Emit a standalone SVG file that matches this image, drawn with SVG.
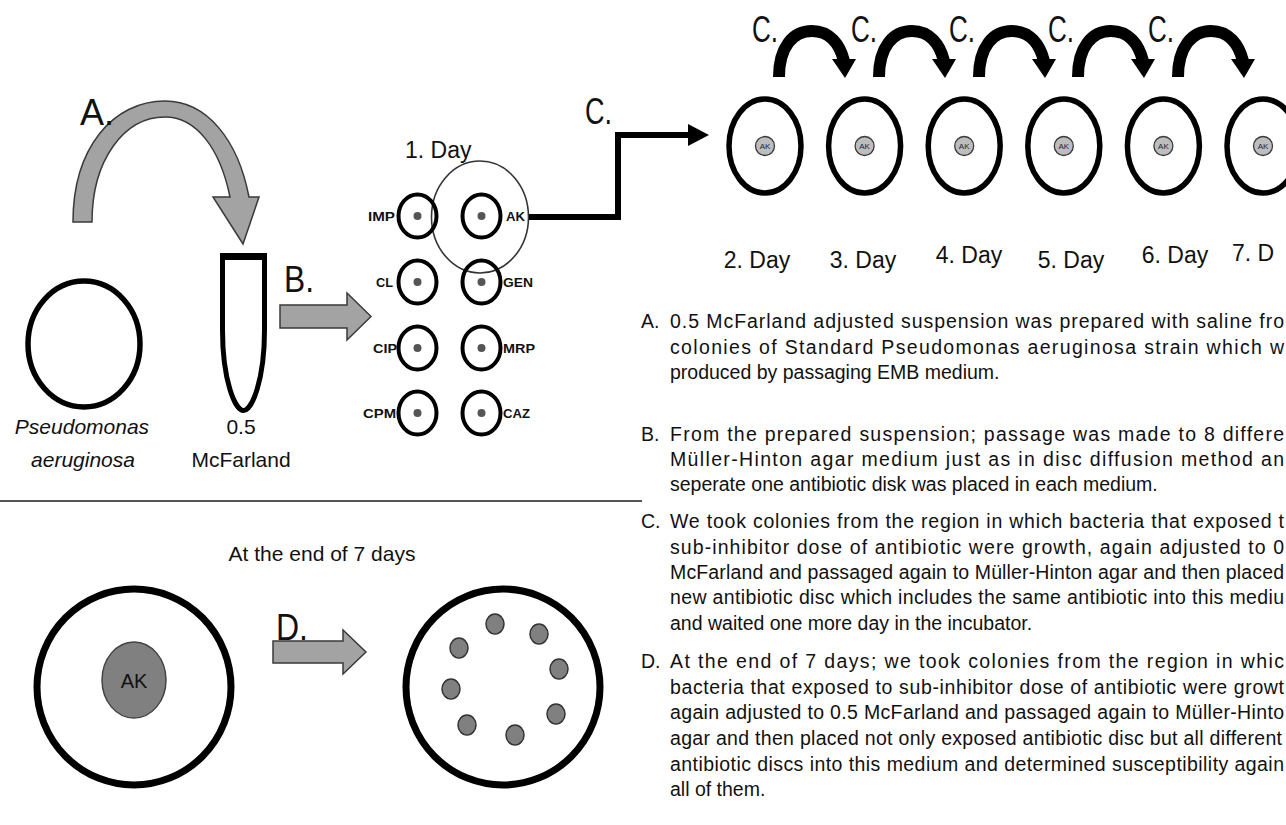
<svg xmlns="http://www.w3.org/2000/svg" xmlns:xlink="http://www.w3.org/1999/xlink" width="1286" height="825" viewBox="0 0 1286 825">
  <defs>
    <style>
      text { font-family: "Liberation Sans", Arial, sans-serif; fill: #111; }
      .lbl { font-size: 36px; }
      .day { font-size: 23px; }
      .name { font-size: 21px; }
      .ab { font-size: 13px; font-weight: bold; }
      .par { font-size: 19.5px; }
      .plate { fill: none; stroke: #000; stroke-width: 5.5; }
      .bigplate { fill: none; stroke: #000; stroke-width: 7; }
      .disc { fill: none; stroke: #000; stroke-width: 4; }
      .pin { fill: #555; }
      .gray { fill: #a3a3a3; stroke: #3a3a3a; stroke-width: 1.5; }
      .akdot { fill: #bdbdbd; stroke: #3a3a3a; stroke-width: 1.3; }
      .aktiny { font-size: 8px; fill: #223; }
      .colony { fill: #808080; stroke: #333; stroke-width: 1.5; }
      .wire { fill: none; stroke: #000; stroke-width: 6; }
    </style>
    <!-- one daily passage hop: thick arc with a downward head -->
    <g id="hop">
      <path d="M0,77 C0,47 14,31 33,31 C51,31 61,45 65,61" fill="none" stroke="#000" stroke-width="12"/>
      <polygon points="53,59 77,59 66,78" fill="#000"/>
    </g>
    <!-- plate carrying a single AK disc -->
    <g id="akplate">
      <ellipse cx="0" cy="0" rx="36" ry="47" class="plate"/>
      <circle cx="0" cy="0" r="9.5" class="akdot"/>
      <text x="0" y="3" text-anchor="middle" class="aktiny">AK</text>
    </g>
  </defs>

  <rect width="1286" height="825" fill="#fff"/>

  <!-- starting culture -->
  <g id="culture">
    <ellipse cx="84" cy="344" rx="56" ry="63" class="plate"/>
    <text x="82" y="434" text-anchor="middle" class="name" font-style="italic">Pseudomonas</text>
    <text x="83" y="467" text-anchor="middle" class="name" font-style="italic">aeruginosa</text>
  </g>

  <!-- McFarland tube -->
  <g id="tube">
    <path d="M222.5,256 H264.5 V330 C264.5,380 252,410.5 243.5,410.5 C235,410.5 222.5,380 222.5,330 Z" fill="#fff" stroke="#000" stroke-width="5"/>
    <rect x="220" y="253" width="47" height="7" fill="#000"/>
    <text x="241" y="434" text-anchor="middle" class="name">0.5</text>
    <text x="241" y="467" text-anchor="middle" class="name">McFarland</text>
  </g>

  <!-- day 1: eight antibiotic plates -->
  <g id="day1">
    <text x="405" y="158" class="day">1. Day</text>
    <ellipse cx="480" cy="217" rx="48.5" ry="56" fill="none" stroke="#333" stroke-width="1.6"/>
    <g id="disc-IMP"><ellipse cx="417.5" cy="216" rx="19" ry="21.5" class="disc"/><circle cx="417.5" cy="216" r="4" class="pin"/><text x="368" y="221" class="ab" textLength="27" lengthAdjust="spacingAndGlyphs">IMP</text></g>
    <g id="disc-AK"><ellipse cx="481.5" cy="216" rx="19" ry="21.5" class="disc"/><circle cx="481.5" cy="216" r="4" class="pin"/><text x="506" y="221" class="ab" textLength="19" lengthAdjust="spacingAndGlyphs">AK</text></g>
    <g id="disc-CL"><ellipse cx="417.5" cy="282" rx="19" ry="21.5" class="disc"/><circle cx="417.5" cy="282" r="4" class="pin"/><text x="376" y="287" class="ab" textLength="17" lengthAdjust="spacingAndGlyphs">CL</text></g>
    <g id="disc-GEN"><ellipse cx="481.5" cy="282" rx="19" ry="21.5" class="disc"/><circle cx="481.5" cy="282" r="4" class="pin"/><text x="503" y="287" class="ab" textLength="30" lengthAdjust="spacingAndGlyphs">GEN</text></g>
    <g id="disc-CIP"><ellipse cx="417.5" cy="348" rx="19" ry="21.5" class="disc"/><circle cx="417.5" cy="348" r="4" class="pin"/><text x="373" y="353" class="ab" textLength="24" lengthAdjust="spacingAndGlyphs">CIP</text></g>
    <g id="disc-MRP"><ellipse cx="481.5" cy="348" rx="19" ry="21.5" class="disc"/><circle cx="481.5" cy="348" r="4" class="pin"/><text x="503" y="353" class="ab" textLength="32" lengthAdjust="spacingAndGlyphs">MRP</text></g>
    <g id="disc-CPM"><ellipse cx="417.5" cy="413" rx="19" ry="21.5" class="disc"/><circle cx="417.5" cy="413" r="4" class="pin"/><text x="363" y="418" class="ab" textLength="33" lengthAdjust="spacingAndGlyphs">CPM</text></g>
    <g id="disc-CAZ"><ellipse cx="481.5" cy="413" rx="19" ry="21.5" class="disc"/><circle cx="481.5" cy="413" r="4" class="pin"/><text x="503" y="418" class="ab" textLength="27" lengthAdjust="spacingAndGlyphs">CAZ</text></g>
  </g>

  <!-- days 2 to 7 -->
  <g id="day2"><use xlink:href="#akplate" x="765" y="146"/><text x="757" y="268" text-anchor="middle" class="day">2. Day</text></g>
  <g id="day3"><use xlink:href="#akplate" x="864.6" y="146"/><text x="863" y="268" text-anchor="middle" class="day">3. Day</text></g>
  <g id="day4"><use xlink:href="#akplate" x="964.2" y="146"/><text x="969" y="263" text-anchor="middle" class="day">4. Day</text></g>
  <g id="day5"><use xlink:href="#akplate" x="1063.8" y="146"/><text x="1071" y="268" text-anchor="middle" class="day">5. Day</text></g>
  <g id="day6"><use xlink:href="#akplate" x="1163.4" y="146"/><text x="1175" y="263" text-anchor="middle" class="day">6. Day</text></g>
  <g id="day7"><use xlink:href="#akplate" x="1263" y="146"/><text x="1232" y="261" class="day">7. D</text></g>

  <!-- connectors -->
  <g id="connectors">
    <g id="arrow-A">
      <path d="M73,222 C73,148 113,101 165,101 C207,101 238,140 249,197 L259,197 L243,244 L213,197 L230,197 C220,148 196,117 165,117 C124,117 92,160 92,222 Z" class="gray"/>
      <text x="80" y="125" class="lbl" textLength="34" lengthAdjust="spacingAndGlyphs">A.</text>
    </g>
    <g id="arrow-B">
      <polygon points="280,305 347,305 347,293 371,316.5 347,340 347,328 280,328" class="gray"/>
      <text x="284" y="292" class="lbl" textLength="30" lengthAdjust="spacingAndGlyphs">B.</text>
    </g>
    <g id="arrow-C">
      <polyline points="529,217 618,217 618,135 690,135" class="wire"/>
      <polygon points="688,124 709,135 688,146" fill="#000"/>
      <text x="585" y="124" class="lbl" textLength="27" lengthAdjust="spacingAndGlyphs">C.</text>
    </g>
    <g id="hops">
      <use xlink:href="#hop" x="779"/><text x="752" y="42" class="lbl" textLength="26" lengthAdjust="spacingAndGlyphs">C.</text>
      <use xlink:href="#hop" x="879"/><text x="851" y="42" class="lbl" textLength="26" lengthAdjust="spacingAndGlyphs">C.</text>
      <use xlink:href="#hop" x="979"/><text x="949" y="42" class="lbl" textLength="26" lengthAdjust="spacingAndGlyphs">C.</text>
      <use xlink:href="#hop" x="1078"/><text x="1048" y="42" class="lbl" textLength="26" lengthAdjust="spacingAndGlyphs">C.</text>
      <use xlink:href="#hop" x="1178"/><text x="1148" y="42" class="lbl" textLength="26" lengthAdjust="spacingAndGlyphs">C.</text>
    </g>
    <g id="arrow-D">
      <polygon points="273,641 343,641 343,630 366,652 343,674 343,663 273,663" class="gray"/>
      <text x="276" y="640" class="lbl" textLength="32" lengthAdjust="spacingAndGlyphs">D.</text>
    </g>
  </g>

  <!-- divider -->
  <line x1="0" y1="501" x2="642" y2="501" stroke="#555" stroke-width="2"/>

  <!-- end of seven days -->
  <g id="final">
    <text x="322" y="561" text-anchor="middle" class="name">At the end of 7 days</text>
    <g id="plate-AK">
      <ellipse cx="134" cy="687" rx="97" ry="98" class="bigplate"/>
      <ellipse cx="134" cy="680" rx="32" ry="38" fill="#808080" stroke="#444" stroke-width="1.5"/>
      <text x="134" y="688" text-anchor="middle" font-size="20px">AK</text>
    </g>
    <g id="plate-all">
      <ellipse cx="503" cy="687" rx="97" ry="98" class="bigplate"/>
      <ellipse cx="495" cy="624" rx="9" ry="10" class="colony"/>
      <ellipse cx="539" cy="634" rx="9" ry="10" class="colony"/>
      <ellipse cx="459" cy="648" rx="9" ry="10" class="colony"/>
      <ellipse cx="559" cy="669" rx="9" ry="10" class="colony"/>
      <ellipse cx="451" cy="689" rx="9" ry="10" class="colony"/>
      <ellipse cx="556" cy="714" rx="9" ry="10" class="colony"/>
      <ellipse cx="467" cy="725" rx="9" ry="10" class="colony"/>
      <ellipse cx="515" cy="735" rx="9" ry="10" class="colony"/>
    </g>
  </g>

  <!-- method notes -->
  <g id="notes" class="par">
    <text x="641" y="328">A.</text>
    <text x="670" y="328" textLength="614" lengthAdjust="spacing">0.5 McFarland adjusted suspension was prepared with saline fro</text>
    <text x="670" y="354" textLength="614" lengthAdjust="spacing">colonies of Standard Pseudomonas aeruginosa strain which w</text>
    <text x="670" y="379">produced by passaging EMB medium.</text>

    <text x="641" y="441">B.</text>
    <text x="670" y="441" textLength="614" lengthAdjust="spacing">From the prepared suspension; passage was made to 8 differe</text>
    <text x="670" y="466" textLength="614" lengthAdjust="spacing">Müller-Hinton agar medium just as in disc diffusion method an</text>
    <text x="670" y="491">seperate one antibiotic disk was placed in each medium.</text>

    <text x="641" y="528">C.</text>
    <text x="670" y="528" textLength="614" lengthAdjust="spacing">We took colonies from the region in which bacteria that exposed t</text>
    <text x="670" y="554" textLength="614" lengthAdjust="spacing">sub-inhibitor dose of antibiotic were growth, again adjusted to 0</text>
    <text x="670" y="579" textLength="614" lengthAdjust="spacing">McFarland and passaged again to Müller-Hinton agar and then placed</text>
    <text x="670" y="604" textLength="614" lengthAdjust="spacing">new antibiotic disc which includes the same antibiotic into this mediu</text>
    <text x="670" y="630">and waited one more day in the incubator.</text>

    <text x="641" y="668">D.</text>
    <text x="670" y="668" textLength="614" lengthAdjust="spacing">At the end of 7 days; we took colonies from the region in whic</text>
    <text x="670" y="694" textLength="614" lengthAdjust="spacing">bacteria that exposed to sub-inhibitor dose of antibiotic were growt</text>
    <text x="670" y="719" textLength="614" lengthAdjust="spacing">again adjusted to 0.5 McFarland and passaged again to Müller-Hinto</text>
    <text x="670" y="745" textLength="612" lengthAdjust="spacing">agar and then placed not only exposed antibiotic disc but all different</text>
    <text x="670" y="771" textLength="614" lengthAdjust="spacing">antibiotic discs into this medium and determined susceptibility again</text>
    <text x="670" y="796">all of them.</text>
  </g>
</svg>
